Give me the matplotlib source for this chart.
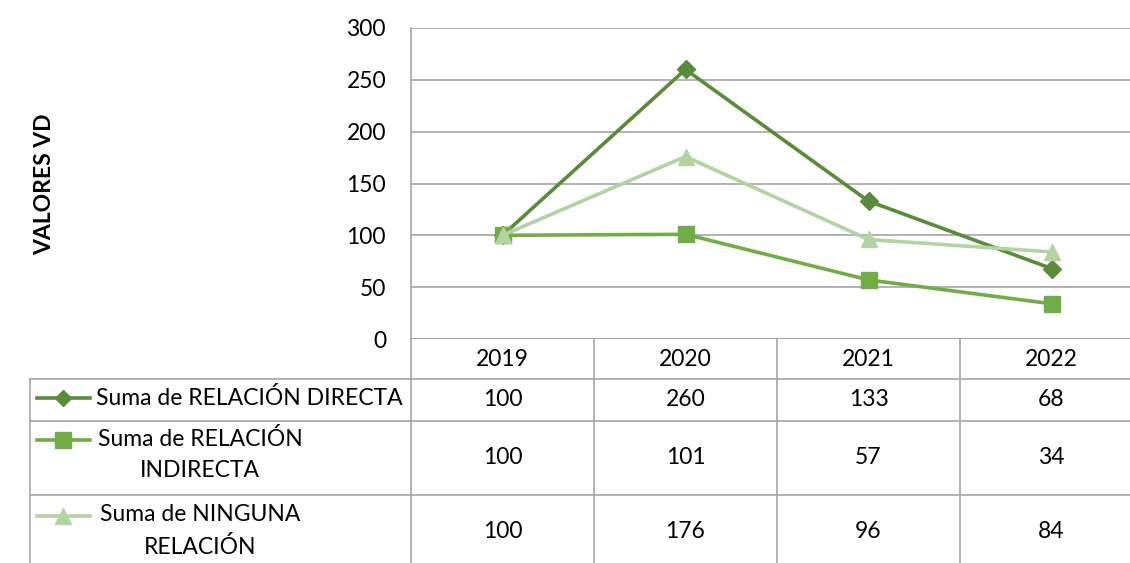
import numpy as np
import matplotlib.pyplot as plt
from matplotlib.lines import Line2D

plt.rcParams["font.family"] = ["Lato", "DejaVu Sans"]

years = ["2019", "2020", "2021", "2022"]
directa = [100, 260, 133, 68]
indirecta = [100, 101, 57, 34]
ninguna = [100, 176, 96, 84]

series_labels = ["Suma de RELACIÓN DIRECTA", "Suma de RELACIÓN\nINDIRECTA", "Suma de NINGUNA\nRELACIÓN"]
series_values = [directa, indirecta, ninguna]
series_colors = ["#588C39", "#70AD47", "#B4D3A2"]
series_markers = ["D", "s", "^"]
marker_sizes = [9, 12, 12]

y_ticks = [0, 50, 100, 150, 200, 250, 300]

W, H = 1130, 563
FS = 16.5
fig = plt.figure(figsize=(W / 100, H / 100), dpi=100)

# plot area in pixel units (the last column runs past the right edge)
left, right, top, bottom = 411, 1143, 28, 339
ax = fig.add_axes([left / W, 1 - bottom / H, (right - left) / W, (bottom - top) / H])

grid_col = "#A6A6A6"
x = np.arange(len(years))
for vals, col, mk, ms in zip(series_values, series_colors, series_markers, marker_sizes):
    ax.plot(x, vals, color=col, lw=2.6, marker=mk, markersize=ms,
            markerfacecolor=col, markeredgecolor=col, zorder=3, clip_on=False)

ax.set_xlim(-0.5, len(years) - 0.5)
ax.set_ylim(0, 300)
ax.set_yticks(y_ticks)
ax.set_yticklabels([str(t) for t in y_ticks], fontsize=FS)
ax.tick_params(axis="y", length=0, pad=18)
ax.set_xticks([])
ax.grid(axis="y", color=grid_col, lw=1.2)
for s in ["top", "right", "bottom"]:
    ax.spines[s].set_visible(False)
ax.spines["left"].set_color(grid_col)
ax.spines["left"].set_linewidth(1.2)
ax.axhline(0, color=grid_col, lw=1.2, zorder=2)

# data table below the plot: rows in axes fraction, columns on the category axis
tr = ax.get_xaxis_transform()
ph = bottom - top
px2x = lambda p: (p - left) / (right - left) * len(years) - 0.5
px2y = lambda p: (bottom - p) / ph

row_px = [339, 379, 421, 495, 563]
row_y = [px2y(r) for r in row_px]
x_tab_left = px2x(30)
y_end = row_y[-1] - 0.05

for i in range(len(years) + 1):
    ax.add_line(Line2D([i - 0.5, i - 0.5], [row_y[0], y_end], transform=tr,
                       color=grid_col, lw=1.2, clip_on=False))
for y in row_y[1:-1]:
    ax.add_line(Line2D([x_tab_left, len(years) - 0.5], [y, y], transform=tr,
                       color=grid_col, lw=1.2, clip_on=False))
ax.add_line(Line2D([x_tab_left, x_tab_left], [row_y[1], y_end], transform=tr,
                   color=grid_col, lw=1.2, clip_on=False))

# header row
for i, yr in enumerate(years):
    ax.text(i, (row_y[0] + row_y[1]) / 2, yr, transform=tr, ha="center", va="center",
            fontsize=FS)

# value rows with legend keys
value_y_px = [399, 458, 531]
key_y_px = [398, 440, 516]
for r, (lab, vals, col, mk, ms) in enumerate(zip(series_labels, series_values,
                                                  series_colors, series_markers, marker_sizes)):
    for i, v in enumerate(vals):
        ax.text(i, px2y(value_y_px[r]), str(v), transform=tr, ha="center", va="center",
                fontsize=FS)
    ly = px2y(key_y_px[r])
    ax.add_line(Line2D([px2x(37), px2x(90)], [ly, ly], transform=tr, color=col, lw=2.6,
                       clip_on=False))
    ax.add_line(Line2D([px2x(63)], [ly], transform=tr, color=col, marker=mk,
                       markersize=ms * 0.95, markerfacecolor=col, markeredgecolor=col,
                       clip_on=False))
    if r == 0:
        ax.text(px2x(96), ly, lab, transform=tr, ha="left", va="center", fontsize=FS)
    else:
        ax.text(px2x(200), px2y(key_y_px[r] - 12), lab, transform=tr, ha="center", va="top",
                fontsize=FS, multialignment="center", linespacing=1.6)

fig.text(45 / W, 1 - 184 / H, "VALORES VD", rotation=90, ha="center", va="center",
         fontsize=FS, fontweight="bold")

fig.savefig("out.png", dpi=100)
